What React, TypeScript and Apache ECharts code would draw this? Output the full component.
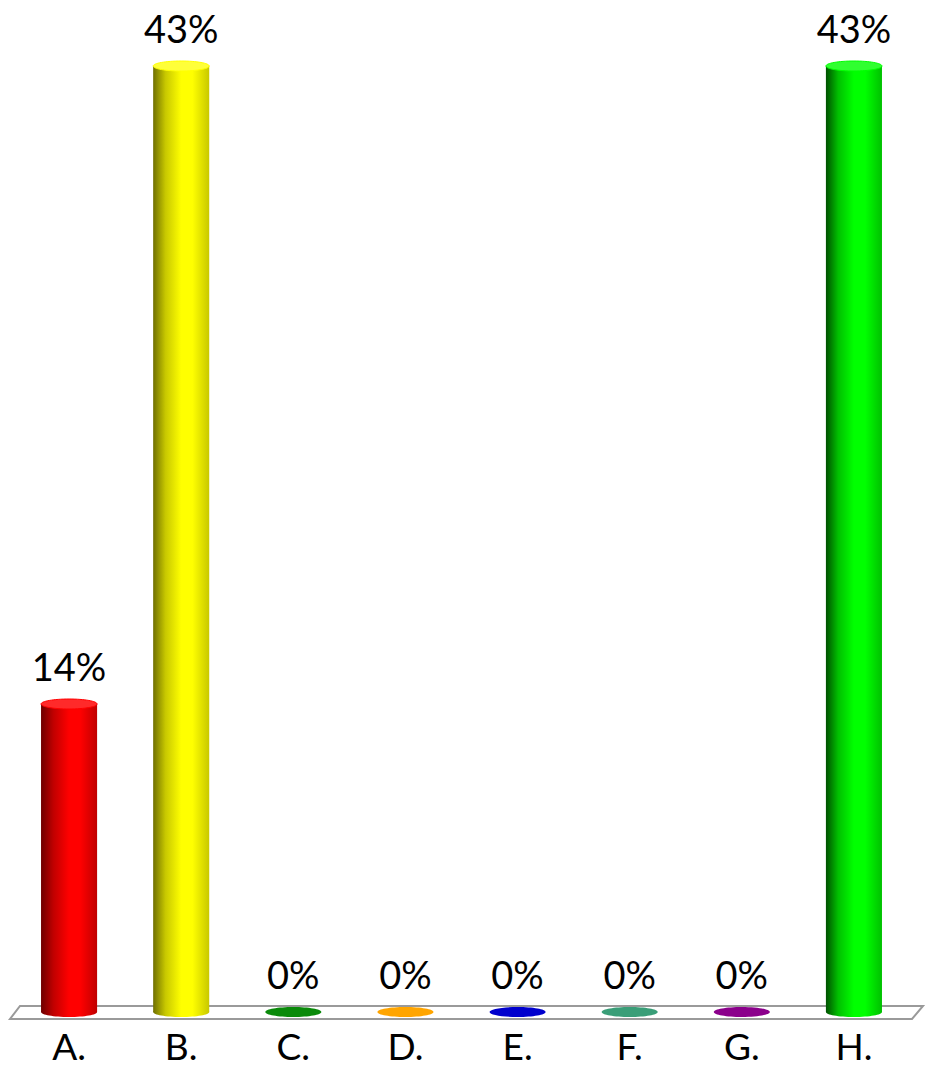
import React, { useEffect, useRef } from "react";
import * as echarts from "echarts";

const categories = ["A.", "B.", "C.", "D.", "E.", "F.", "G.", "H."];
const percentValues = [14, 43, 0, 0, 0, 0, 0, 43];
const barColors = [
  { dark: "#6e0000", edge: "#c00000", mid: "#ff0000", light: "#ff2a2a" },
  { dark: "#6f6f00", edge: "#c8c800", mid: "#ffff00", light: "#ffff3a" },
  { dark: "#006000", edge: "#0a7a0a", mid: "#0a8a0a", light: "#1a9a1a" },
  { dark: "#c07000", edge: "#e69500", mid: "#ffa500", light: "#ffb833" },
  { dark: "#000080", edge: "#0000b0", mid: "#0000cd", light: "#2020e0" },
  { dark: "#1f7a55", edge: "#33906c", mid: "#3a9e78", light: "#4cb08a" },
  { dark: "#500050", edge: "#7a007a", mid: "#8b008b", light: "#a020a0" },
  { dark: "#005000", edge: "#00c000", mid: "#00ff00", light: "#30ff30" },
];

export default function App() {
  const ref = useRef<HTMLDivElement>(null);
  useEffect(() => {
    const chart = echarts.init(ref.current!, null, { renderer: "svg" });
    const data = percentValues.map((v, i) => [i, v]);
    chart.setOption({
      animation: false,
      backgroundColor: "#ffffff",
      grid: { left: 13, right: 17, top: 66, bottom: 56 },
      xAxis: {
        type: "category",
        data: categories,
        axisLine: { show: false },
        axisTick: { show: false },
        splitLine: { show: false },
        axisLabel: {
          fontFamily: "Lato",
          fontSize: 37,
          lineHeight: 36,
          color: "#000000",
          margin: 15,
        },
      },
      yAxis: {
        type: "value",
        min: 0,
        max: 43,
        show: false,
        splitLine: { show: false },
      },
      graphic: [
        {
          type: "polygon",
          z: 0,
          shape: {
            points: [
              [20, 1006],
              [923, 1006],
              [912, 1019],
              [10, 1019],
            ],
          },
          style: { fill: "#ffffff", stroke: "#9a9a9a", lineWidth: 2 },
        },
      ],
      series: [
        {
          type: "custom",
          z: 5,
          data,
          renderItem: (params: any, api: any) => {
            const idx = api.value(0);
            const v = api.value(1);
            const c = barColors[idx];
            const base = api.coord([idx, 0]);
            const top = api.coord([idx, v]);
            const bw = api.size([1, 0])[0] * 0.5;
            const x = base[0];
            const ry = 5;
            const children: any[] = [];
            const grad = new echarts.graphic.LinearGradient(0, 0, 1, 0, [
              { offset: 0, color: c.dark },
              { offset: 0.22, color: c.edge },
              { offset: 0.5, color: c.mid },
              { offset: 0.7, color: c.mid },
              { offset: 1, color: c.edge },
            ]);
            if (v > 0) {
              children.push({
                type: "ellipse",
                shape: { cx: x, cy: base[1], rx: bw / 2, ry },
                style: { fill: grad },
              });
              children.push({
                type: "rect",
                shape: { x: x - bw / 2, y: top[1], width: bw, height: base[1] - top[1] },
                style: { fill: grad },
              });
              children.push({
                type: "ellipse",
                shape: { cx: x, cy: top[1], rx: bw / 2, ry },
                style: { fill: c.light, stroke: c.mid, lineWidth: 1 },
              });
            } else {
              children.push({
                type: "ellipse",
                shape: { cx: x, cy: base[1], rx: bw / 2, ry },
                style: { fill: c.mid },
              });
            }
            children.push({
              type: "text",
              style: {
                text: v + "%",
                x,
                y: top[1] - 38,
                textAlign: "center",
                textVerticalAlign: "middle",
                fontFamily: "Lato",
                fontSize: 38,
                fill: "#000000",
              },
            });
            return { type: "group", children };
          },
        },
      ],
    });
    return () => chart.dispose();
  }, []);
  return (
    <div
      ref={ref}
      style={{ position: "absolute", left: 0, top: 0, width: 927, height: 1068 }}
    />
  );
}
